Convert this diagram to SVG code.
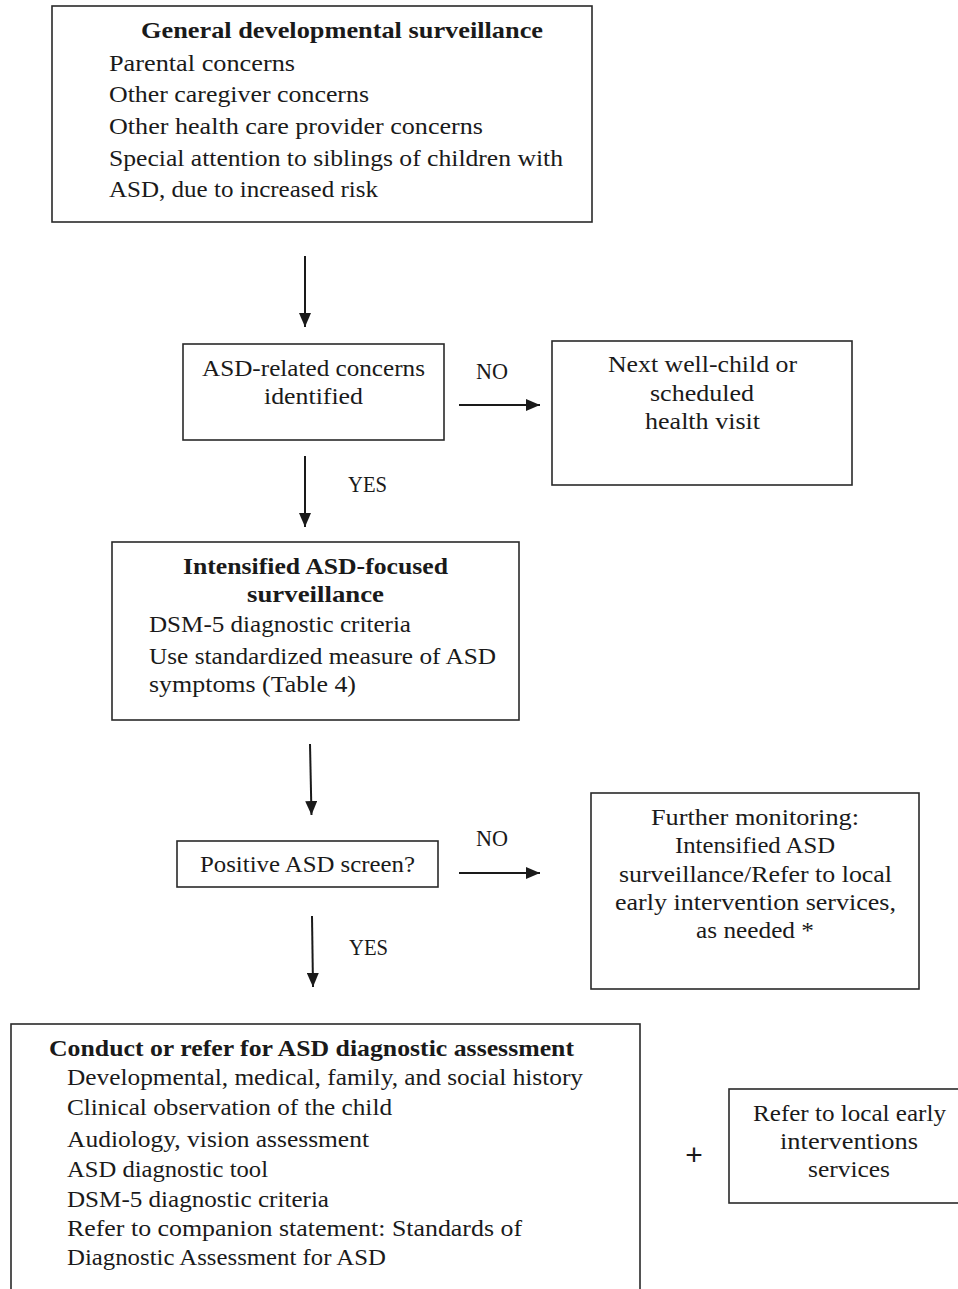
<svg xmlns="http://www.w3.org/2000/svg" width="958" height="1289" viewBox="0 0 958 1289">
<defs>
<marker id="ah" viewBox="0 0 14 12" refX="14" refY="6" markerWidth="14" markerHeight="12" markerUnits="userSpaceOnUse" orient="auto">
<path d="M0,0 L14,6 L0,12 Z" fill="#1a1a1a"/>
</marker>
</defs>
<style>
rect.box{fill:#fff;stroke:#2a2a2a;stroke-width:1.6}
text{font-family:"Liberation Serif","DejaVu Serif",serif;font-size:23px;fill:#1a1a1a}
text.b{font-weight:bold}
text.c{text-anchor:middle}
line.ar{stroke:#1a1a1a;stroke-width:2;marker-end:url(#ah)}
</style>
<rect width="958" height="1289" fill="#fff"/>
<g id="connectors">
<line class="ar" x1="305" y1="256" x2="305" y2="327"/>
<line class="ar" x1="459" y1="405" x2="540" y2="405"/>
<line class="ar" x1="305" y1="456" x2="305" y2="527"/>
<line class="ar" x1="310" y1="744" x2="311.5" y2="815"/>
<line class="ar" x1="459" y1="873" x2="540" y2="873"/>
<line class="ar" x1="312" y1="916" x2="313" y2="987"/>
<text x="476" y="379" textLength="32" lengthAdjust="spacingAndGlyphs">NO</text>
<text x="348" y="492" textLength="39" lengthAdjust="spacingAndGlyphs">YES</text>
<text x="476" y="846" textLength="32" lengthAdjust="spacingAndGlyphs">NO</text>
<text x="349" y="955" textLength="39" lengthAdjust="spacingAndGlyphs">YES</text>
<text x="694" y="1165" class="c" style="font-size:30px;font-family:'Liberation Sans',sans-serif">+</text>
</g>
<g id="n1">
<rect class="box" x="52" y="6" width="540" height="216"/>
<text class="b" x="141" y="38" textLength="402" lengthAdjust="spacingAndGlyphs">General developmental surveillance</text>
<text x="109" y="71" textLength="186" lengthAdjust="spacingAndGlyphs">Parental concerns</text>
<text x="109" y="102" textLength="260" lengthAdjust="spacingAndGlyphs">Other caregiver concerns</text>
<text x="109" y="134" textLength="374" lengthAdjust="spacingAndGlyphs">Other health care provider concerns</text>
<text x="109" y="166" textLength="454" lengthAdjust="spacingAndGlyphs">Special attention to siblings of children with</text>
<text x="109" y="197" textLength="269" lengthAdjust="spacingAndGlyphs">ASD, due to increased risk</text>
</g>
<g id="n2">
<rect class="box" x="183" y="344" width="261" height="96"/>
<text x="202" y="376" textLength="223" lengthAdjust="spacingAndGlyphs">ASD-related concerns</text>
<text x="264" y="404" textLength="99" lengthAdjust="spacingAndGlyphs">identified</text>
</g>
<g id="n3">
<rect class="box" x="552" y="341" width="300" height="144"/>
<text x="608" y="372" textLength="189" lengthAdjust="spacingAndGlyphs">Next  well-child or</text>
<text x="650" y="401" textLength="104" lengthAdjust="spacingAndGlyphs">scheduled</text>
<text x="645" y="429" textLength="115" lengthAdjust="spacingAndGlyphs">health visit</text>
</g>
<g id="n4">
<rect class="box" x="112" y="542" width="407" height="178"/>
<text class="b" x="183" y="574" textLength="265" lengthAdjust="spacingAndGlyphs">Intensified ASD-focused</text>
<text class="b" x="247" y="602" textLength="137" lengthAdjust="spacingAndGlyphs">surveillance</text>
<text x="149" y="632" textLength="262" lengthAdjust="spacingAndGlyphs">DSM-5 diagnostic criteria</text>
<text x="149" y="664" textLength="347" lengthAdjust="spacingAndGlyphs">Use standardized measure of ASD</text>
<text x="149" y="692" textLength="207" lengthAdjust="spacingAndGlyphs">symptoms (Table 4)</text>
</g>
<g id="n5">
<rect class="box" x="177" y="841" width="261" height="46"/>
<text x="200" y="872" textLength="215" lengthAdjust="spacingAndGlyphs">Positive ASD screen?</text>
</g>
<g id="n6">
<rect class="box" x="591" y="793" width="328" height="196"/>
<text x="651" y="825" textLength="208" lengthAdjust="spacingAndGlyphs">Further monitoring:</text>
<text x="675" y="853" textLength="160" lengthAdjust="spacingAndGlyphs">Intensified ASD</text>
<text x="619" y="882" textLength="273" lengthAdjust="spacingAndGlyphs">surveillance/Refer to local</text>
<text x="615" y="910" textLength="281" lengthAdjust="spacingAndGlyphs">early intervention services,</text>
<text x="696" y="938" textLength="118" lengthAdjust="spacingAndGlyphs">as needed *</text>
</g>
<g id="n7">
<rect class="box" x="11" y="1024" width="629" height="290"/>
<text class="b" x="49" y="1056" textLength="525" lengthAdjust="spacingAndGlyphs">Conduct or refer for ASD diagnostic assessment</text>
<text x="67" y="1085" textLength="516" lengthAdjust="spacingAndGlyphs">Developmental, medical, family, and social history</text>
<text x="67" y="1115" textLength="325" lengthAdjust="spacingAndGlyphs">Clinical observation of the child</text>
<text x="67" y="1147" textLength="302" lengthAdjust="spacingAndGlyphs">Audiology, vision assessment</text>
<text x="67" y="1177" textLength="201" lengthAdjust="spacingAndGlyphs">ASD diagnostic tool</text>
<text x="67" y="1207" textLength="262" lengthAdjust="spacingAndGlyphs">DSM-5 diagnostic criteria</text>
<text x="67" y="1236" textLength="455" lengthAdjust="spacingAndGlyphs">Refer to companion statement: Standards of</text>
<text x="67" y="1265" textLength="319" lengthAdjust="spacingAndGlyphs">Diagnostic Assessment for ASD</text>
</g>
<g id="n8">
<rect class="box" x="729" y="1089" width="230" height="114"/>
<text x="753" y="1121" textLength="193" lengthAdjust="spacingAndGlyphs">Refer to local early</text>
<text x="780" y="1149" textLength="138" lengthAdjust="spacingAndGlyphs">interventions</text>
<text x="808" y="1177" textLength="82" lengthAdjust="spacingAndGlyphs">services</text>
</g>
</svg>
